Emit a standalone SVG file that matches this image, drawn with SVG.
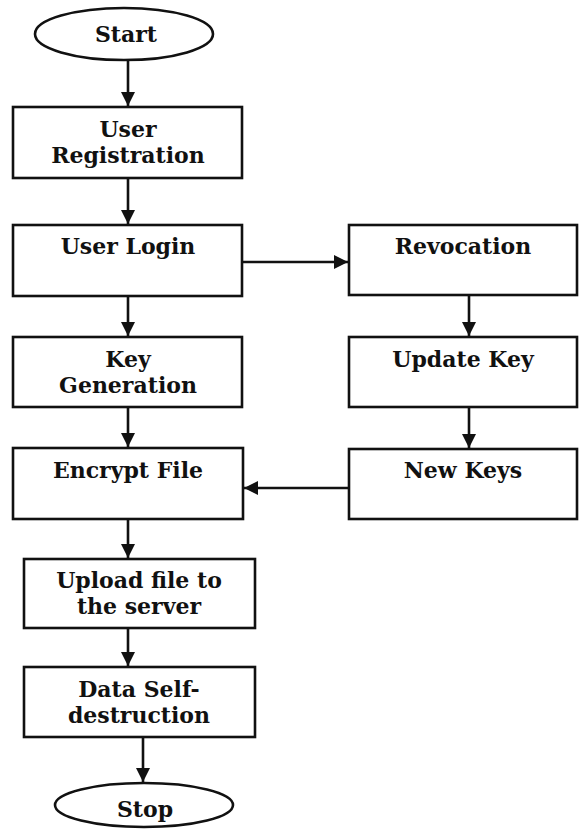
<svg xmlns="http://www.w3.org/2000/svg" width="580" height="829" viewBox="0 0 580 829">
<style>
.box{fill:#fff;stroke:#111;stroke-width:2.6}
.t{font-family:"DejaVu Serif","Liberation Serif",serif;font-weight:bold;font-size:22px;fill:#111;text-anchor:middle}
.c{stroke:#111;stroke-width:2.6;fill:none;marker-end:url(#ah)}
</style>
<defs>
<marker id="ah" markerUnits="userSpaceOnUse" markerWidth="15" markerHeight="14" refX="14" refY="7" orient="auto">
<path d="M0,0 L14,7 L0,14 z" fill="#111"/>
</marker>
</defs>
<rect width="580" height="829" fill="#fff"/>
<g id="connectors">
<line class="c" x1="128" y1="60" x2="128" y2="106"/>
<line class="c" x1="128" y1="178" x2="128" y2="224"/>
<line class="c" x1="128" y1="296" x2="128" y2="336"/>
<line class="c" x1="128" y1="407" x2="128" y2="447"/>
<line class="c" x1="128" y1="519" x2="128" y2="558"/>
<line class="c" x1="128" y1="628" x2="128" y2="666"/>
<line class="c" x1="143" y1="737" x2="143" y2="782"/>
<line class="c" x1="242" y1="262" x2="348" y2="262"/>
<line class="c" x1="469" y1="295" x2="469" y2="336"/>
<line class="c" x1="469" y1="407" x2="469" y2="448"/>
<line class="c" x1="349" y1="488" x2="244" y2="488"/>
</g>
<g id="start">
<ellipse class="box" cx="124" cy="34" rx="89" ry="26"/>
<text class="t" x="126" y="42">Start</text>
</g>
<g id="user-registration">
<rect class="box" x="13" y="107" width="229" height="71"/>
<text class="t" x="128" y="137">User</text>
<text class="t" x="128" y="163">Registration</text>
</g>
<g id="user-login">
<rect class="box" x="13" y="225" width="229" height="71"/>
<text class="t" x="128" y="254">User Login</text>
</g>
<g id="revocation">
<rect class="box" x="349" y="225" width="228" height="70"/>
<text class="t" x="463" y="254">Revocation</text>
</g>
<g id="key-generation">
<rect class="box" x="13" y="337" width="229" height="70"/>
<text class="t" x="128" y="367">Key</text>
<text class="t" x="128" y="393">Generation</text>
</g>
<g id="update-key">
<rect class="box" x="349" y="337" width="228" height="70"/>
<text class="t" x="463" y="367">Update Key</text>
</g>
<g id="encrypt-file">
<rect class="box" x="13" y="448" width="230" height="71"/>
<text class="t" x="128" y="478">Encrypt File</text>
</g>
<g id="new-keys">
<rect class="box" x="349" y="449" width="228" height="70"/>
<text class="t" x="463" y="478">New Keys</text>
</g>
<g id="upload">
<rect class="box" x="24" y="559" width="231" height="69"/>
<text class="t" x="139" y="588">Upload file to</text>
<text class="t" x="139" y="614">the server</text>
</g>
<g id="data-self-destruction">
<rect class="box" x="24" y="667" width="231" height="70"/>
<text class="t" x="139" y="697">Data Self-</text>
<text class="t" x="139" y="723">destruction</text>
</g>
<g id="stop">
<ellipse class="box" cx="144" cy="805" rx="89" ry="22"/>
<text class="t" x="145" y="817">Stop</text>
</g>
</svg>
